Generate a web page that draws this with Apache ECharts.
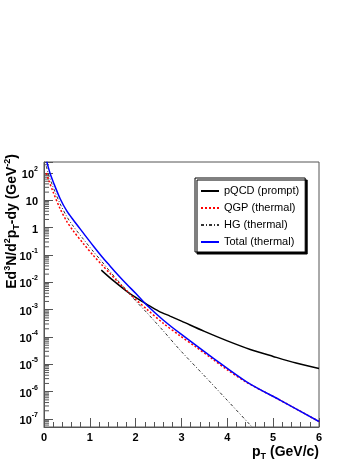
<!DOCTYPE html>
<html>
<head>
<meta charset="utf-8">
<script src="https://cdn.jsdelivr.net/npm/echarts@6/dist/echarts.min.js"></script>
<style>
  html, body { margin: 0; padding: 0; background: #fff; }
  #chart { width: 358px; height: 463px; }
</style>
</head>
<body>
<div id="chart"></div>
<script>
// pT (GeV/c) and yields
const ptPqcd = [1.25, 1.5, 1.8, 2.0, 2.27, 2.5, 2.75, 3.0, 3.5, 4.0, 4.5, 5.0, 5.5, 6.0];
const pqcd = [2.8e-2, 1.2e-2, 4.8e-3, 2.8e-3, 1.48e-3, 8.9e-4, 5.8e-4, 3.8e-4, 1.6e-4, 7.2e-5, 3.5e-5, 1.95e-5, 1.12e-5, 7.1e-6];

const ptQgp = [0.05, 0.1, 0.2, 0.35, 0.5, 0.64, 0.86, 1.08, 1.26, 1.44, 1.61, 1.8, 2.01, 2.24, 2.6, 2.97, 3.3, 3.69, 4.0, 4.42, 5.15, 6.0];
const qgp = [100, 56, 20, 5.0, 1.66, 0.76, 0.26, 0.095, 0.044, 0.021, 0.0105, 5.0e-3, 2.3e-3, 1.05e-3, 3.2e-4, 1.1e-4, 4.5e-5, 1.5e-5, 6.3e-6, 2.2e-6, 4.9e-7, 8.1e-8];

const ptHg = [0.05, 0.1, 0.2, 0.35, 0.5, 0.64, 0.86, 1.08, 1.26, 1.44, 1.61, 1.8, 2.0, 2.24, 2.4, 2.6, 2.97, 3.5, 4.0, 4.54, 4.7];
const hg = [178, 89, 30, 7.6, 2.5, 1.12, 0.38, 0.132, 0.058, 0.025, 0.0117, 5.1e-3, 2.1e-3, 7.9e-4, 4.0e-4, 1.7e-4, 3.3e-5, 3.8e-6, 4.8e-7, 5.1e-8, 2.6e-8];

const ptTotal = [0.06, 0.13, 0.2, 0.35, 0.5, 0.64, 0.86, 1.08, 1.26, 1.44, 1.61, 1.8, 2.01, 2.24, 2.6, 2.97, 3.69, 4.42, 5.15, 6.0];
const total = [2.6e2, 1.0e2, 48, 11.7, 4.0, 1.9, 0.63, 0.21, 8.9e-2, 4.0e-2, 1.9e-2, 8.7e-3, 3.8e-3, 1.48e-3, 4.2e-4, 1.35e-4, 1.7e-5, 2.3e-6, 4.9e-7, 8.1e-8];

const xTicks = [0, 1, 2, 3, 4, 5, 6];
const yMin = 5.1e-8, yMax = 253;

const FONT = "'Liberation Sans', Arial, sans-serif";

function pairs(xs, ys) {
  return xs.map((x, i) => [x, ys[i]]);
}

const chart = echarts.init(document.getElementById("chart"), null, { renderer: "canvas" });

const option = {
  animation: false,
  backgroundColor: "#fff",
  textStyle: { fontFamily: FONT },
  grid: {
    left: 44, right: 39, top: 162, bottom: 36,
    show: true, borderColor: "#555", borderWidth: 1, backgroundColor: "transparent"
  },
  legend: {
    orient: "vertical",
    left: 195, top: 178,
    padding: [6, 6, 3, 5],
    itemWidth: 18, itemHeight: 14, itemGap: 3,
    backgroundColor: "#fff",
    borderColor: "#000", borderWidth: 1,
    shadowColor: "#000", shadowBlur: 0, shadowOffsetX: 2, shadowOffsetY: 2,
    itemStyle: { opacity: 0 },
    textStyle: { fontFamily: FONT, fontSize: 11, color: "#000", lineHeight: 14 },
    data: ["pQCD (prompt)", "QGP (thermal)", "HG (thermal)", "Total (thermal)"]
  },
  xAxis: {
    type: "value", min: 0, max: 6, interval: 1,
    axisLine: { lineStyle: { color: "#555" } },
    axisTick: { inside: true, length: 9, lineStyle: { color: "#555" } },
    minorTick: { show: true, splitNumber: 5, length: 5, lineStyle: { color: "#555" } },
    splitLine: { show: false },
    axisLabel: {
      fontFamily: FONT, fontSize: 11, fontWeight: "bold", color: "#000", margin: 5,
      formatter: v => (xTicks.includes(v) ? String(v) : "")
    }
  },
  yAxis: {
    type: "log", logBase: 10, min: yMin, max: yMax, splitNumber: 10,
    axisLine: { lineStyle: { color: "#555" } },
    axisTick: { inside: true, length: 9, lineStyle: { color: "#555" } },
    splitLine: { show: false },
    axisLabel: {
      color: "#000", margin: 6,
      formatter: function (v) {
        const e = Math.round(Math.log10(v));
        if (Math.abs(v / Math.pow(10, e) - 1) > 1e-6) return "";
        if (e === 0) return "{b|1}";
        if (e === 1) return "{b|10}";
        return "{b|10}{s|" + e + "}";
      },
      rich: {
        b: { fontFamily: FONT, fontSize: 11, fontWeight: "bold", color: "#000", lineHeight: 15, verticalAlign: "bottom" },
        s: { fontFamily: FONT, fontSize: 7, fontWeight: "bold", color: "#000", lineHeight: 15, verticalAlign: "top" }
      }
    }
  },
  series: [
    {
      name: "pQCD (prompt)", type: "line", data: pairs(ptPqcd, pqcd),
      smooth: 0.3, showSymbol: false, symbol: "none",
      lineStyle: { color: "#000", width: 1.5 }, itemStyle: { color: "#000" }
    },
    {
      name: "QGP (thermal)", type: "line", data: pairs(ptQgp, qgp),
      smooth: 0.3, showSymbol: false, symbol: "none",
      lineStyle: { color: "#ff0000", width: 1.5, type: [2, 2] }, itemStyle: { color: "#ff0000" }
    },
    {
      name: "HG (thermal)", type: "line", data: pairs(ptHg, hg),
      smooth: 0.3, showSymbol: false, symbol: "none",
      lineStyle: { color: "#333", width: 1, type: [3, 2, 1, 2] }, itemStyle: { color: "#333" }
    },
    {
      name: "Total (thermal)", type: "line", data: pairs(ptTotal, total),
      smooth: 0.3, showSymbol: false, symbol: "none",
      lineStyle: { color: "#0000ff", width: 1.5 }, itemStyle: { color: "#0000ff" }
    }
  ]
};

chart.setOption(option);

// ROOT style titles and log minor ticks
const graphics = [];
for (let e = -8; e <= 2; e++) {
  for (let k = 2; k <= 9; k++) {
    const v = k * Math.pow(10, e);
    if (v <= yMin || v >= yMax) continue;
    const y = chart.convertToPixel({ yAxisIndex: 0 }, v);
    graphics.push({
      type: "line", silent: true,
      shape: { x1: 44, y1: y, x2: 49, y2: y },
      style: { stroke: "#555", lineWidth: 1 }
    });
  }
}

graphics.push({
  type: "text", x: 12, y: 154, rotation: Math.PI / 2,
  style: {
    text: "{a|Ed}{s|3}{a|N/d}{s|2}{a|p}{u|T}{a|-dy (GeV}{s|-2}{a|)}",
    align: "right", verticalAlign: "middle",
    textAlign: "right", textVerticalAlign: "middle",
    rich: {
      a: { fontFamily: FONT, fontSize: 14, fontWeight: "bold", fill: "#000", color: "#000", lineHeight: 18, verticalAlign: "middle" },
      s: { fontFamily: FONT, fontSize: 9, fontWeight: "bold", fill: "#000", color: "#000", lineHeight: 18, verticalAlign: "top" },
      u: { fontFamily: FONT, fontSize: 9, fontWeight: "bold", fill: "#000", color: "#000", lineHeight: 18, verticalAlign: "bottom" }
    }
  }
});

graphics.push({
  type: "text", x: 319, y: 452,
  style: {
    text: "{a|p}{u|T}{a| (GeV/c)}",
    align: "right", verticalAlign: "middle",
    textAlign: "right", textVerticalAlign: "middle",
    rich: {
      a: { fontFamily: FONT, fontSize: 14, fontWeight: "bold", fill: "#000", color: "#000", lineHeight: 18, verticalAlign: "middle" },
      u: { fontFamily: FONT, fontSize: 9, fontWeight: "bold", fill: "#000", color: "#000", lineHeight: 18, verticalAlign: "bottom" }
    }
  }
});

chart.setOption({ graphic: graphics });
</script>
</body>
</html>
